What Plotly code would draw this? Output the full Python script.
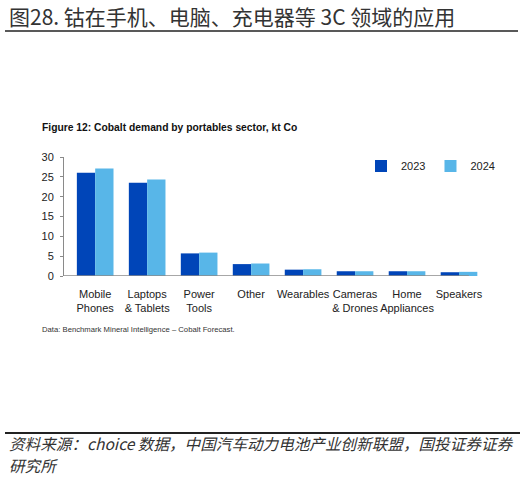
import plotly.graph_objects as go

categories = ["Mobile<br>Phones", "Laptops<br>& Tablets", "Power<br>Tools", "Other",
              "Wearables", "Cameras<br>& Drones", "Home<br>Appliances", "Speakers"]
series_names = ["2023", "2024"]
values_2023 = [26.0, 23.5, 5.7, 3.0, 1.6, 1.2, 1.2, 0.95]
values_2024 = [27.1, 24.3, 5.9, 3.15, 1.7, 1.2, 1.2, 1.05]
y_ticks = [0, 5, 10, 15, 20, 25, 30]

W, H = 527, 477
L, R, T, B = 64, 42, 157, 201
PW, PH = W - L - R, H - T - B

def px(x):
    return (x - L) / PW

def py(y):
    return (H - B - y) / PH

DARK = "#0045B8"
LIGHT = "#58B6E8"
SANS = "Liberation Sans, Arial, sans-serif"
CJK = "Noto Sans CJK SC"

fig = go.Figure()
fig.add_trace(go.Bar(x=categories, y=values_2023, name=series_names[0],
                     marker=dict(color=DARK, line=dict(width=0))))
fig.add_trace(go.Bar(x=categories, y=values_2024, name=series_names[1],
                     marker=dict(color=LIGHT, line=dict(width=0))))

fig.update_layout(
    width=W, height=H,
    margin=dict(l=L, r=R, t=T, b=B, autoexpand=False),
    paper_bgcolor="white", plot_bgcolor="white",
    barmode="group", bargap=0.295, bargroupgap=0,
    font=dict(family=SANS, size=11, color="#222"),
    showlegend=True,
    legend=dict(orientation="h", x=px(361), y=py(166), yanchor="middle", xanchor="left",
                font=dict(size=11, color="#222"), bgcolor="rgba(0,0,0,0)",
                itemwidth=30, tracegroupgap=0),
    xaxis=dict(range=[-0.6, 7.5], showline=False, showgrid=False, zeroline=False,
               ticks="", tickangle=0, automargin=False,
               tickfont=dict(size=11, color="#222"), ticklabelstandoff=10,
               fixedrange=True),
    yaxis=dict(range=[0, 30], tickvals=y_ticks, showline=True, linecolor="#8a8a8a",
               linewidth=1, ticks="outside", ticklen=3, tickcolor="#8a8a8a",
               automargin=False, ticklabelstandoff=4,
               showgrid=False, zeroline=False, tickfont=dict(size=11, color="#222"),
               fixedrange=True),
)

# x axis baseline (shorter than plot area, as in the reference)
fig.add_shape(type="line", xref="x", yref="y", x0=-0.6, x1=7.19, y0=0, y1=0,
              line=dict(color="#8a8a8a", width=1.5))

# page decorations
fig.add_shape(type="line", xref="paper", yref="paper", x0=px(5), x1=px(518),
              y0=py(31), y1=py(31), line=dict(color="#222", width=1.5))
fig.add_shape(type="line", xref="paper", yref="paper", x0=px(5), x1=px(520),
              y0=py(433), y1=py(433), line=dict(color="#222", width=2))

fig.add_annotation(text="图28. 钴在手机、电脑、充电器等 3C 领域的应用",
                   xref="paper", yref="paper", x=px(7), y=py(16),
                   xanchor="left", yanchor="middle", showarrow=False,
                   font=dict(family=CJK, size=21, color="#333"))
fig.add_annotation(text="<b>Figure 12: Cobalt demand by portables sector, kt Co</b>",
                   xref="paper", yref="paper", x=px(40), y=py(127),
                   xanchor="left", yanchor="middle", showarrow=False,
                   font=dict(family=SANS, size=10.3, color="#111"))
fig.add_annotation(text="Data: Benchmark Mineral Intelligence – Cobalt Forecast.",
                   xref="paper", yref="paper", x=px(40), y=py(329),
                   xanchor="left", yanchor="middle", showarrow=False,
                   font=dict(family=SANS, size=7.7, color="#333"))
footer_font = dict(family=CJK, size=15.6, color="#333", style="italic")
fig.add_annotation(text="资料来源：choice 数据，中国汽车动力电池产业创新联盟，国投证券证券",
                   xref="paper", yref="paper", x=px(7), y=py(443),
                   xanchor="left", yanchor="middle", showarrow=False, font=footer_font)
fig.add_annotation(text="研究所",
                   xref="paper", yref="paper", x=px(7), y=py(465),
                   xanchor="left", yanchor="middle", showarrow=False, font=footer_font)

fig.write_html("out.html", config={"displayModeBar": False},
               post_script="document.body.style.margin='0px';")
